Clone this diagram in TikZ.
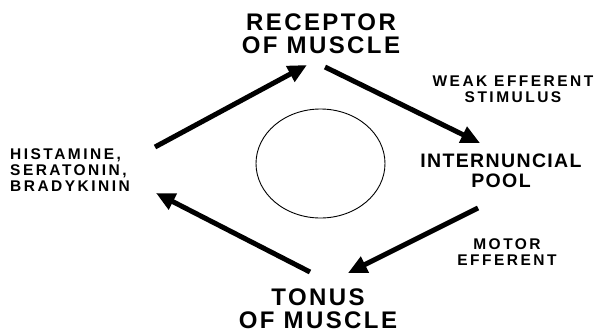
\documentclass[tikz,border=0pt]{standalone}
\usepackage{fontspec}
\setmainfont{Liberation Sans}
\newfontfamily\bigfont[LetterSpace=10]{Liberation Sans}
\newfontfamily\midfont[LetterSpace=7]{Liberation Sans}
\newfontfamily\smallfont[LetterSpace=16]{Liberation Sans}
\usetikzlibrary{arrows.meta}

\begin{document}
\begin{tikzpicture}[x=1pt,y=-1pt,
    bigtext/.style={font=\bigfont\bfseries\fontsize{24}{23}\selectfont,align=center,inner sep=0pt},
    midtext/.style={font=\midfont\bfseries\fontsize{19.5}{20}\selectfont,align=center,inner sep=0pt},
    smalltext/.style={font=\smallfont\bfseries\fontsize{15.5}{16}\selectfont,align=center,inner sep=0pt},
    flow/.style={line width=5pt,-{Triangle[length=19pt,width=17pt]}}]
  \useasboundingbox (0,0) rectangle (603,333);
  % Stations of the cycle
  \node[bigtext] (receptor) at (321,34) {RECEPTOR\\OF MUSCLE};
  \node[midtext] (pool) at (501,171) {INTERNUNCIAL\\POOL};
  \node[bigtext] (tonus) at (318,309) {TONUS\\OF MUSCLE};
  \node[smalltext,anchor=west,align=left] (agents) at (10,170) {HISTAMINE,\\SERATONIN,\\BRADYKININ};
  % Labels on the right
  \node[smalltext] (weak) at (513,89) {WEAK EFFERENT\\STIMULUS};
  \node[smalltext] (motor) at (507,252) {MOTOR\\EFFERENT};
  % Centre
  \draw[line width=0.9pt] (320.5,163.5) ellipse (64.5 and 54.5);
  % Arrow ends
  \coordinate (agents-out) at (155,147);
  \coordinate (receptor-in) at (307,65);
  \coordinate (receptor-out) at (325,67);
  \coordinate (pool-in) at (480,143);
  \coordinate (pool-out) at (478,208);
  \coordinate (tonus-in) at (348,273);
  \coordinate (tonus-out) at (310,272);
  \coordinate (agents-in) at (156,193);
  % Arrows
  \draw[flow] (agents-out) -- (receptor-in);
  \draw[flow] (receptor-out) -- (pool-in);
  \draw[flow] (pool-out) -- (tonus-in);
  \draw[flow] (tonus-out) -- (agents-in);
\end{tikzpicture}
\end{document}
